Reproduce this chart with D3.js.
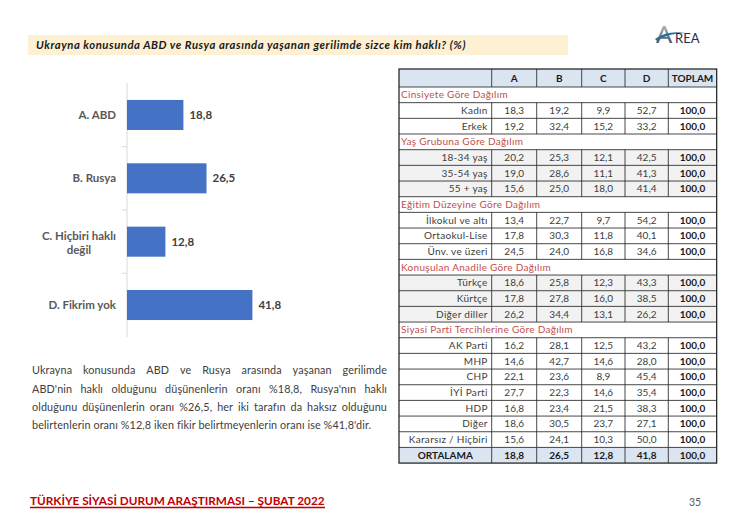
<!DOCTYPE html>
<html><head><meta charset="utf-8">
<script src="https://cdn.jsdelivr.net/npm/d3@7"></script>
<style>
html,body{margin:0;padding:0;background:#fff;}
svg{display:block;}
text{font-family:"Lato","Open Sans",sans-serif;}
</style></head>
<body>
<script>
// ---------- DATA ----------
const chartTitle = "Ukrayna konusunda ABD ve Rusya arasında yaşanan gerilimde sizce kim haklı? (%)";
const categories = ["A. ABD", "B. Rusya", "C. Hiçbiri haklı|değil", "D. Fikrim yok"];
const values = [18.8, 26.5, 12.8, 41.8];

const columns = ["A", "B", "C", "D", "TOPLAM"];
const sectionTitles = ["Cinsiyete Göre Dağılım", "Yaş Grubuna Göre Dağılım", "Eğitim Düzeyine Göre Dağılım", "Konuşulan Anadile Göre Dağılım", "Siyasi Parti Tercihlerine Göre Dağılım"];
const cinsiyet = [["Kadın", 18.3, 19.2, 9.9, 52.7, 100.0], ["Erkek", 19.2, 32.4, 15.2, 33.2, 100.0]];
const yas = [["18-34 yaş", 20.2, 25.3, 12.1, 42.5, 100.0], ["35-54 yaş", 19.0, 28.6, 11.1, 41.3, 100.0], ["55 + yaş", 15.6, 25.0, 18.0, 41.4, 100.0]];
const egitim = [["İlkokul ve altı", 13.4, 22.7, 9.7, 54.2, 100.0], ["Ortaokul-Lise", 17.8, 30.3, 11.8, 40.1, 100.0], ["Ünv. ve üzeri", 24.5, 24.0, 16.8, 34.6, 100.0]];
const anadil = [["Türkçe", 18.6, 25.8, 12.3, 43.3, 100.0], ["Kürtçe", 17.8, 27.8, 16.0, 38.5, 100.0], ["Diğer diller", 26.2, 34.4, 13.1, 26.2, 100.0]];
const parti = [["AK Parti", 16.2, 28.1, 12.5, 43.2, 100.0], ["MHP", 14.6, 42.7, 14.6, 28.0, 100.0], ["CHP", 22.1, 23.6, 8.9, 45.4, 100.0], ["İYİ Parti", 27.7, 22.3, 14.6, 35.4, 100.0], ["HDP", 16.8, 23.4, 21.5, 38.3, 100.0], ["Diğer", 18.6, 30.5, 23.7, 27.1, 100.0], ["Kararsız / Hiçbiri", 15.6, 24.1, 10.3, 50.0, 100.0]];
const ortalama = ["ORTALAMA", 18.8, 26.5, 12.8, 41.8, 100.0];
const sectionRows = [cinsiyet, yas, egitim, anadil, parti];
const shadedSections = [1, 3];

const paragraph = ["Ukrayna konusunda ABD ve Rusya arasında yaşanan gerilimde",
  "ABD'nin haklı olduğunu düşünenlerin oranı %18,8, Rusya'nın haklı",
  "olduğunu düşünenlerin oranı %26,5, her iki tarafın da haksız olduğunu",
  "belirtenlerin oranı %12,8 iken fikir belirtmeyenlerin oranı ise %41,8'dir."];
const footerText = "TÜRKİYE SİYASİ DURUM ARAŞTIRMASI – ŞUBAT 2022";
const pageNumber = "35";

// ---------- SETUP ----------
const W = 745, H = 523;
const svg = d3.select("body").append("svg").attr("width", W).attr("height", H);
const fmt = v => d3.format(".1f")(v).replace(".", ",");

function fitWidth(t, target) {
  const fs = parseFloat(t.attr("font-size"));
  const w = t.node().getComputedTextLength();
  t.attr("font-size", (fs * target / w).toFixed(2));
  return fs * target / w;
}
function fitSpacing(t, target) {
  const n = t.text().length;
  const w = t.node().getComputedTextLength();
  const ls = Math.max(0, (target - w) / n);
  t.attr("letter-spacing", ls.toFixed(3));
  return ls;
}

// ---------- TITLE ----------
svg.append("rect").attr("x", 28).attr("y", 35).attr("width", 540).attr("height", 20).attr("fill", "#fdf0d3");
const tt = svg.append("text").attr("x", 36).attr("y", 49).attr("font-size", 11.3)
  .attr("font-weight", "bold").attr("font-style", "italic").attr("fill", "#1a1a1a").text(chartTitle);
fitSpacing(tt, 430);

// ---------- LOGO ----------
const defs = svg.append("defs");
const lg = defs.append("linearGradient").attr("id", "lg").attr("x1", 0).attr("y1", 0).attr("x2", 0).attr("y2", 1);
lg.append("stop").attr("offset", "0%").attr("stop-color", "#d5dbe2");
lg.append("stop").attr("offset", "100%").attr("stop-color", "#1d3550");
svg.append("text").attr("x", 656).attr("y", 43).attr("font-family", "Liberation Serif, serif")
  .attr("font-size", 24).attr("fill", "url(#lg)").text("A");
svg.append("path").attr("d", "M655,39 Q667,30 686,33 Q668,33 657,41 Z").attr("fill", "#2e6d9a");
svg.append("text").attr("x", 675).attr("y", 43).attr("font-family", "Liberation Serif, serif")
  .attr("font-size", 13).attr("fill", "#1f2d4d").text("REA");

// ---------- BAR CHART ----------
const x = d3.scaleLinear().domain([0, 45]).range([127, 262]);
const y = d3.scaleBand().domain(categories).range([83.3, 336.7]).paddingInner(0.526).paddingOuter(0.263);
const g = svg.append("g");
g.append("line").attr("x1", 127).attr("x2", 127).attr("y1", 83).attr("y2", 337).attr("stroke", "#d9d9d9");
const bounds = categories.slice(1).map(c => y(c) - y.step() * y.paddingInner() / 2);
g.selectAll(".tk").data(bounds).join("line").attr("x1", 122).attr("x2", 127)
  .attr("y1", d => d).attr("y2", d => d).attr("stroke", "#d9d9d9");
g.selectAll(".bar").data(categories).join("rect")
  .attr("x", x(0)).attr("y", d => y(d)).attr("width", (d, i) => x(values[i]) - x(0))
  .attr("height", y.bandwidth()).attr("fill", "#4472c4");
g.selectAll(".val").data(categories).join("text")
  .attr("x", (d, i) => x(values[i]) + 6).attr("y", d => y(d) + y.bandwidth() / 2 + 4)
  .attr("font-size", 11.5).attr("font-weight", "bold").attr("fill", "#404040").text((d, i) => fmt(values[i]));
categories.forEach(c => {
  const lines = c.split("|");
  const cy = y(c) + y.bandwidth() / 2;
  if (lines.length === 1) {
    g.append("text").attr("x", 116).attr("y", cy + 4).attr("text-anchor", "end")
      .attr("font-size", 11.5).attr("font-weight", "bold").attr("fill", "#595959").text(c);
  } else {
    const t0 = g.append("text").attr("x", 116).attr("y", cy - 2).attr("text-anchor", "end")
      .attr("font-size", 11.5).attr("font-weight", "bold").attr("fill", "#595959").text(lines[0]);
    const w0 = t0.node().getComputedTextLength();
    g.append("text").attr("x", 116 - w0 / 2).attr("y", cy + 12).attr("text-anchor", "middle")
      .attr("font-size", 11.5).attr("font-weight", "bold").attr("fill", "#595959").text(lines[1]);
  }
});

// ---------- PARAGRAPH ----------
const pFs = 10.8;
const lastT = svg.append("text").attr("x", 32).attr("y", 429).attr("font-size", pFs).attr("fill", "#404040").text(paragraph[3]);
const pLs = fitSpacing(lastT, 339);
[374, 392.5, 411].forEach((by, i) => {
  const words = paragraph[i].split(" ");
  const tmp = words.map(w => svg.append("text").attr("font-size", pFs).attr("letter-spacing", pLs).text(w));
  const widths = tmp.map(t => t.node().getComputedTextLength());
  tmp.forEach(t => t.remove());
  const total = d3.sum(widths);
  const gap = (355 - total) / (words.length - 1);
  let cx = 32;
  words.forEach((w, k) => {
    svg.append("text").attr("x", cx).attr("y", by).attr("font-size", pFs).attr("letter-spacing", pLs)
      .attr("fill", "#404040").text(w);
    cx += widths[k] + gap;
  });
});

// ---------- TABLE ----------
const colX = [399, 491.7, 536.7, 581.7, 625, 668.3, 716.7];
const tTop = 69, headH = 18, rowH = 15.67;
const tFs = 10;
const tg = svg.append("g");
const probe = tg.append("text").attr("font-size", tFs).text(sectionTitles[4]);
const tLs = fitSpacing(probe, 172);
probe.remove();
let rows = [];
sectionRows.forEach((sr, si) => {
  rows.push({ type: "section", label: sectionTitles[si] });
  sr.forEach(r => rows.push({ type: "data", r, shade: shadedSections.includes(si) }));
});
rows.push({ type: "avg", r: ortalama });

tg.append("rect").attr("x", colX[0]).attr("y", tTop).attr("width", colX[6] - colX[0]).attr("height", headH).attr("fill", "#dbe5f1");
columns.forEach((c, i) => {
  tg.append("text").attr("x", (colX[i + 1] + colX[i + 2]) / 2).attr("y", tTop + headH / 2 + 3.5)
    .attr("text-anchor", "middle").attr("font-size", tFs).attr("font-weight", "bold").attr("fill", "#1a1a1a").text(c);
});
const lineAttr = sel => sel.attr("stroke", "#1a1a1a").attr("stroke-width", 0.8);
rows.forEach((row, k) => {
  const ry = tTop + headH + k * rowH;
  if (row.type === "section") {
    tg.append("text").attr("x", 401).attr("y", ry + rowH / 2 + 3.5).attr("font-size", tFs).attr("letter-spacing", tLs)
      .attr("fill", "#c0504d").text(row.label);
  } else {
    if (row.shade || row.type === "avg") {
      tg.append("rect").attr("x", colX[0]).attr("y", ry).attr("width", colX[6] - colX[0]).attr("height", rowH)
        .attr("fill", row.type === "avg" ? "#dbe5f1" : "#f2f2f2");
    }
    const isAvg = row.type === "avg";
    tg.append("text").attr("x", isAvg ? (colX[0] + colX[1]) / 2 : colX[1] - 4).attr("y", ry + rowH / 2 + 3.5)
      .attr("text-anchor", isAvg ? "middle" : "end").attr("font-size", tFs).attr("letter-spacing", isAvg ? 0 : tLs)
      .attr("font-weight", isAvg ? "bold" : "normal").attr("fill", isAvg ? "#1a1a1a" : "#404040").text(row.r[0]);
    row.r.slice(1).forEach((v, i) => {
      const bold = isAvg || i === 4;
      tg.append("text").attr("x", (colX[i + 1] + colX[i + 2]) / 2).attr("y", ry + rowH / 2 + 3.5)
        .attr("text-anchor", "middle").attr("font-size", tFs).attr("font-weight", bold ? "bold" : "normal")
        .attr("fill", bold ? "#1a1a1a" : "#404040").text(fmt(v));
    });
    colX.slice(1, 6).forEach(cx => lineAttr(tg.append("line").attr("x1", cx).attr("x2", cx).attr("y1", ry).attr("y2", ry + rowH)));
  }
  lineAttr(tg.append("line").attr("x1", colX[0]).attr("x2", colX[6]).attr("y1", ry).attr("y2", ry));
});
colX.slice(1, 6).forEach(cx => lineAttr(tg.append("line").attr("x1", cx).attr("x2", cx).attr("y1", tTop).attr("y2", tTop + headH)));
const tBottom = tTop + headH + rows.length * rowH;
tg.append("rect").attr("x", colX[0]).attr("y", tTop).attr("width", colX[6] - colX[0]).attr("height", tBottom - tTop)
  .attr("fill", "none").attr("stroke", "#1a1a1a").attr("stroke-width", 1.2);

// ---------- FOOTER ----------
const ft = svg.append("text").attr("x", 30).attr("y", 505).attr("font-size", 12).attr("font-weight", "bold")
  .attr("fill", "#c00000").text(footerText);
fitWidth(ft, 295);
svg.append("line").attr("x1", 30).attr("x2", 325).attr("y1", 507.5).attr("y2", 507.5).attr("stroke", "#c00000").attr("stroke-width", 1.4);
svg.append("text").attr("x", 689).attr("y", 506).attr("font-size", 10.5).attr("fill", "#595959").text(pageNumber);
</script>
</body></html>
